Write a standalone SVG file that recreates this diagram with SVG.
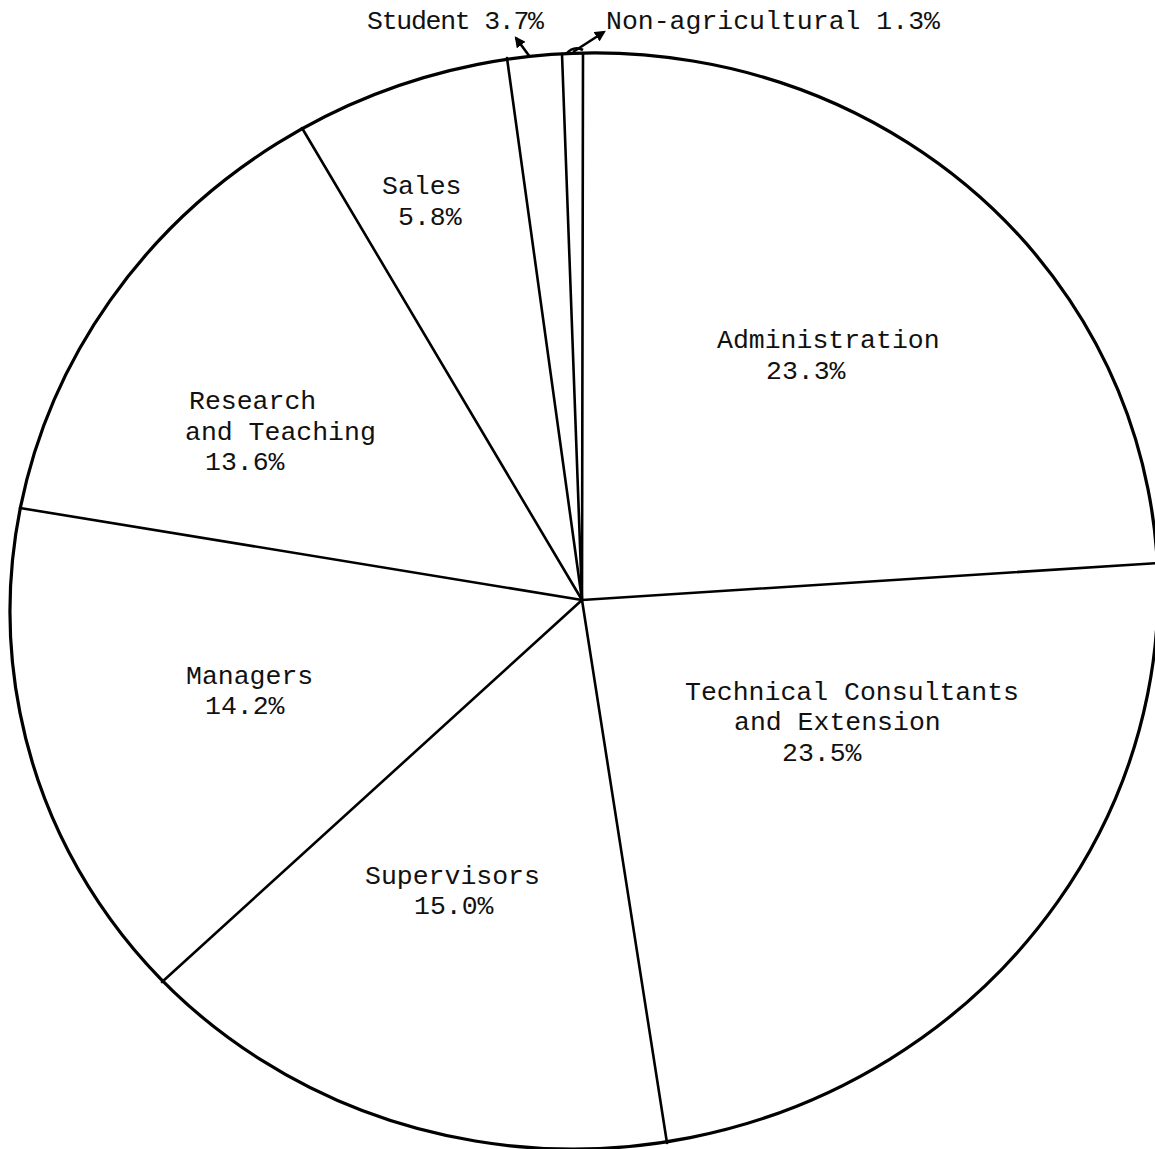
<svg xmlns="http://www.w3.org/2000/svg" width="1155" height="1149" viewBox="0 0 1155 1149">
<style>
.outline{fill:none;stroke:#000;stroke-width:3.2}
.rad{stroke:#000;stroke-width:2.6;stroke-linecap:round}
.lead{stroke:#000;stroke-width:2.6;fill:none}
text{font-family:"Liberation Mono","Courier New",monospace;font-size:26.5px;fill:#111}
</style>
<defs>
<marker id="ah" viewBox="0 0 10 10" refX="8" refY="5" markerWidth="11" markerHeight="11" markerUnits="userSpaceOnUse" orient="auto">
<path d="M0,0 L10,5 L0,10 z" fill="#000"/>
</marker>
</defs>
<rect width="1155" height="1149" fill="#fff"/>
<g id="pie-outline">
<ellipse class="outline" cx="584" cy="601" rx="575" ry="547" transform="rotate(-11.2 584 601)"/>
</g>
<g id="connectors">
<line class="rad" x1="582" y1="600" x2="583" y2="53"/>
<line class="rad" x1="582" y1="600" x2="562" y2="54"/>
<line class="rad" x1="582" y1="600" x2="507" y2="58"/>
<line class="rad" x1="582" y1="600" x2="302" y2="128"/>
<line class="rad" x1="582" y1="600" x2="20" y2="508"/>
<line class="rad" x1="582" y1="600" x2="162" y2="982"/>
<line class="rad" x1="582" y1="600" x2="667" y2="1143"/>
<line class="rad" x1="582" y1="600" x2="1158" y2="563"/>
<line class="lead" x1="530" y1="57" x2="516" y2="38" marker-end="url(#ah)"/>
<line class="lead" x1="573" y1="52" x2="604" y2="32" marker-end="url(#ah)"/>
<path class="lead" d="M566,54 Q574,45 583,50"/>
</g>
<g id="student"><text x="367" y="29" textLength="177" lengthAdjust="spacing">Student 3.7%</text></g>
<g id="non-agricultural"><text x="606" y="29">Non-agricultural 1.3%</text></g>
<g id="sales"><text x="382" y="194">Sales</text><text x="398" y="225">5.8%</text></g>
<g id="administration"><text x="717" y="348">Administration</text><text x="766" y="379">23.3%</text></g>
<g id="research"><text x="189" y="409">Research</text><text x="185" y="440">and Teaching</text><text x="205" y="470">13.6%</text></g>
<g id="managers"><text x="186" y="684">Managers</text><text x="205" y="714">14.2%</text></g>
<g id="technical"><text x="685" y="700">Technical Consultants</text><text x="734" y="730">and Extension</text><text x="782" y="761">23.5%</text></g>
<g id="supervisors"><text x="365" y="884">Supervisors</text><text x="414" y="914">15.0%</text></g>
</svg>
